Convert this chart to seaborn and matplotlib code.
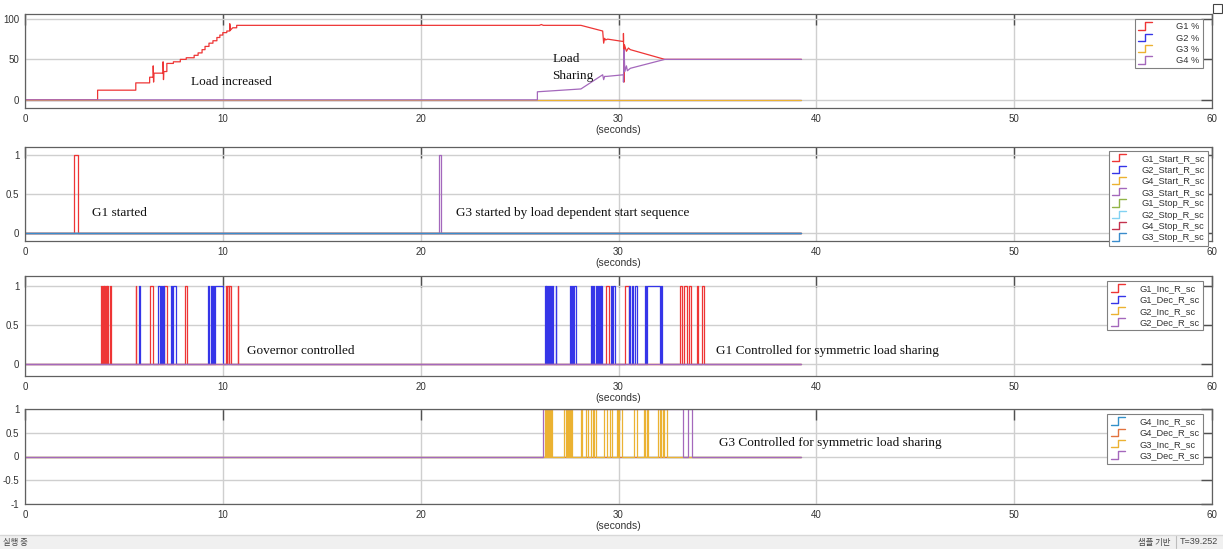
import matplotlib
matplotlib.use("Agg")
import matplotlib.pyplot as plt
import numpy as np
import seaborn as sns
from matplotlib.legend_handler import HandlerBase
from matplotlib.lines import Line2D
from matplotlib.patches import Rectangle

T_END = 39.25

# --- panel 1: load of each generator (%) ---
g1_pct_t = [0, 3.67, 3.67, 5.6, 5.6, 6.3, 6.3, 6.48, 6.48, 6.5, 6.52, 6.98, 6.98, 7.0, 7.02,
            7.17, 7.17, 7.5, 7.5, 7.85, 7.85, 8.15, 8.15, 8.55, 8.55, 8.75, 8.75, 8.95, 8.95,
            9.1, 9.1, 9.3, 9.3, 9.5, 9.5, 9.7, 9.7, 9.85, 9.85, 10.0, 10.0, 10.2, 10.2, 10.35,
            10.35, 10.38, 10.5, 10.7, 10.7, 26.0, 26.1, 26.2, 28.1, 29.2, 29.25, 29.3, 29.35,
            29.45, 30.25, 30.25, 30.28, 30.3, 30.4, 30.5, 30.6, 32.34, T_END]
g1_pct_v = [0, 0, 12, 12, 21, 21, 28, 28, 42, 22, 33, 33, 47, 25, 35,
            35, 45, 45, 47, 47, 50, 50, 52, 52, 55, 55, 58, 58, 62,
            62, 66, 66, 70, 70, 73, 73, 77, 77, 80, 80, 83, 83, 85, 85,
            94, 86, 89, 89, 92, 92, 93, 92, 92, 85, 70, 76, 74,
            75, 72, 82, 22, 68, 60, 64, 62, 50, 50]
g2_pct_t = [0, T_END]
g2_pct_v = [0, 0]
g3_pct_t = [0, T_END]
g3_pct_v = [0, 0]
g4_pct_t = [0, 25.9, 25.9, 28.1, 29.2, 29.25, 29.3, 29.4, 30.25, 30.25, 30.28, 30.32, 30.4,
            30.45, 30.6, 32.34, T_END]
g4_pct_v = [0, 0, 10, 13.5, 31, 25, 29, 29, 31, 22, 62, 35, 42, 36, 39, 50, 50]

# --- panel 2: start / stop requests (on, off) ---
g1_start = [(2.47, 2.68)]
g2_start = []
g4_start = []
g3_start = [(20.95, 21.05)]
g1_stop = []
g2_stop = []
g4_stop = []
g3_stop = []

# --- panel 3: G1 / G2 governor inc / dec ---
g1_inc = [(3.84, 3.9), (3.93, 3.98), (4.01, 4.06), (4.09, 4.13), (4.17, 4.21), (4.29, 4.34),
          (5.6, 5.62), (6.31, 6.48), (7.04, 7.2), (8.1, 8.2), (10.15, 10.2), (10.23, 10.3),
          (10.33, 10.4), (10.77, 10.79), (29.36, 29.51), (30.35, 30.52), (33.13, 33.22),
          (33.3, 33.48), (33.55, 33.68), (33.95, 34.0), (34.2, 34.31)]
g1_dec = [(5.78, 5.8), (6.73, 6.8), (6.85, 6.92), (6.96, 7.04), (7.37, 7.45), (7.5, 7.61),
          (9.26, 9.32), (9.38, 9.44), (9.5, 9.56), (9.62, 10.03), (26.28, 26.32), (26.36, 26.4),
          (26.44, 26.5), (26.55, 26.6), (26.64, 26.68), (26.84, 26.86), (27.53, 27.58),
          (27.63, 27.7), (27.76, 27.85), (28.62, 28.68), (28.72, 28.78), (28.84, 28.9),
          (28.95, 29.0), (29.06, 29.1), (29.14, 29.18), (29.6, 29.68), (29.74, 29.83),
          (30.52, 30.6), (30.66, 30.74), (30.82, 30.91), (31.33, 31.4), (31.45, 32.1),
          (32.15, 32.2)]
g2_inc = []
g2_dec = []

# --- panel 4: G3 / G4 governor inc / dec ---
g4_inc = []
g4_dec = []
g3_inc = [(26.31, 26.36), (26.4, 26.45), (26.5, 26.55), (26.58, 26.62), (27.27, 27.33),
          (27.38, 27.45), (27.5, 27.55), (27.59, 27.64), (28.08, 28.18), (28.38, 28.45),
          (28.62, 28.7), (28.76, 28.85), (29.29, 29.43), (29.56, 29.66), (29.9, 29.98),
          (30.05, 30.2), (30.77, 30.94), (31.28, 31.34), (31.42, 31.48), (32.02, 32.1),
          (32.16, 32.24), (32.3, 32.46)]
g3_dec = [(26.18, 33.27), (33.52, 33.72)]

RED, BLUE, YELLOW, PURPLE = '#ee3535', '#3535e8', '#ebb232', '#a468bc'


def pulses_xy(pulses):
    xs, ys = [0], [0]
    for on, off in pulses:
        xs += [on, on, off, off]
        ys += [0, 1, 1, 0]
    xs.append(T_END)
    ys.append(0)
    return xs, ys


class StepHandler(HandlerBase):
    """ draw the legend sample as a little step like the scope does """
    def create_artists(self, legend, orig_handle, xdescent, ydescent, width, height, fontsize, trans):
        xs = np.array([0.0, 0.5, 0.5, 1.0]) * width - xdescent
        ys = np.array([0.0, 0.0, 1.0, 1.0]) * height * 1.1 - ydescent - 0.05 * height
        ln = Line2D(xs, ys, color=orig_handle.get_color(), lw=1.0)
        ln.set_transform(trans)
        return [ln]


sns.set_style("white")
plt.rcParams['font.family'] = ['Liberation Sans', 'Noto Sans CJK KR', 'DejaVu Sans']

W, H = 1223, 549
fig = plt.figure(figsize=(W / 100, H / 100), dpi=100)

panels = [
    {'box': (14, 108), 'ylim': (-10, 106), 'yticks': [0, 50, 100],
     'series': [('G1 %', g1_pct_t, g1_pct_v, RED), ('G2 %', g2_pct_t, g2_pct_v, BLUE),
                ('G3 %', g3_pct_t, g3_pct_v, YELLOW), ('G4 %', g4_pct_t, g4_pct_v, PURPLE)],
     'anchor': (0.9924, 0.947), 'textpad': 2.6,
     'notes': [(8.4, 22, 'Load increased'), (26.65, 40, 'Load\nSharing')]},
    {'box': (147, 241), 'ylim': (-0.1, 1.1), 'yticks': [0, 0.5, 1],
     'series': [('G1_Start_R_sc', *pulses_xy(g1_start), RED),
                ('G2_Start_R_sc', *pulses_xy(g2_start), BLUE),
                ('G4_Start_R_sc', *pulses_xy(g4_start), YELLOW),
                ('G3_Start_R_sc', *pulses_xy(g3_start), PURPLE),
                ('G1_Stop_R_sc', *pulses_xy(g1_stop), '#92b447'),
                ('G2_Stop_R_sc', *pulses_xy(g2_stop), '#82d2f2'),
                ('G4_Stop_R_sc', *pulses_xy(g4_stop), '#c4334e'),
                ('G3_Stop_R_sc', *pulses_xy(g3_stop), '#3a8ccc')],
     'anchor': (0.9966, 0.96), 'textpad': 1.6,
     'notes': [(3.4, 0.26, 'G1 started'), (21.8, 0.26, 'G3 started by load dependent start sequence')]},
    {'box': (276, 376), 'ylim': (-0.15, 1.13), 'yticks': [0, 0.5, 1],
     'series': [('G1_Inc_R_sc', *pulses_xy(g1_inc), RED),
                ('G1_Dec_R_sc', *pulses_xy(g1_dec), BLUE),
                ('G2_Inc_R_sc', *pulses_xy(g2_inc), YELLOW),
                ('G2_Dec_R_sc', *pulses_xy(g2_dec), PURPLE)],
     'anchor': (0.9924, 0.95), 'textpad': 1.6,
     'notes': [(11.2, 0.17, 'Governor controlled'),
               (34.95, 0.17, 'G1 Controlled for symmetric load sharing')]},
    {'box': (409, 504), 'ylim': (-1, 1), 'yticks': [-1, -0.5, 0, 0.5, 1],
     'series': [('G4_Inc_R_sc', *pulses_xy(g4_inc), '#3390c8'),
                ('G4_Dec_R_sc', *pulses_xy(g4_dec), '#e2733f'),
                ('G3_Inc_R_sc', *pulses_xy(g3_inc), YELLOW),
                ('G3_Dec_R_sc', *pulses_xy(g3_dec), PURPLE)],
     'anchor': (0.9924, 0.947), 'textpad': 1.6,
     'notes': [(35.1, 0.28, 'G3 Controlled for symmetric load sharing')]},
]

for p in panels:
    top, bot = p['box']
    ax = fig.add_axes([25 / W, 1 - bot / H, 1187 / W, (bot - top) / H])
    for name, xs, ys, col in p['series']:
        sns.lineplot(x=xs, y=ys, estimator=None, sort=False, color=col, lw=0.9,
                     label=name, ax=ax)
    ax.set_xlim(0, 60)
    ax.set_ylim(*p['ylim'])
    ax.set_xticks(range(0, 61, 10))
    ax.set_yticks(p['yticks'])
    ax.set_yticklabels([f'{v:g}' for v in p['yticks']])
    ax.grid(True, color='#cfcfcf', lw=1.0)
    ax.set_axisbelow(True)
    ax.tick_params(direction='in', length=8, width=1.0, top=True, right=True,
                   color='#505050', labelsize=7, labelcolor='#333333', pad=4)
    for s in ax.spines.values():
        s.set_color('#606060')
        s.set_linewidth(0.9)
    ax.set_xlabel('(seconds)', fontsize=7.5, color='#333333', labelpad=1)
    ax.set_ylabel('')
    for x, y, txt in p['notes']:
        ax.text(x, y, txt, family='Liberation Serif', fontsize=9.5, color='#111111',
                va='center', ha='left', linespacing=1.5)
    leg = ax.legend(loc='upper right', bbox_to_anchor=p['anchor'], borderaxespad=0,
                    handler_map={Line2D: StepHandler()}, fontsize=6.7, frameon=True,
                    fancybox=False, framealpha=1, edgecolor='#808080', handlelength=1.5,
                    handletextpad=p['textpad'], labelspacing=0.25, borderpad=0.35)
    leg.get_frame().set_linewidth(0.8)
    for t in leg.get_texts():
        t.set_color('#333333')

# status bar of the scope window
fig.add_artist(Rectangle((0, 0), 1, 14 / H, transform=fig.transFigure,
                         facecolor='#f0f0f0', edgecolor='none'))
fig.add_artist(Line2D([0, 1], [14 / H, 14 / H], transform=fig.transFigure,
                      color='#d8d8d8', lw=1))
fig.text(3 / W, 7 / H, '실행 중', family='Noto Sans CJK KR', fontsize=6, color='#444444',
         va='center')
fig.text(1170 / W, 7 / H, '샘플 기반', family='Noto Sans CJK KR', fontsize=6,
         color='#444444', va='center', ha='right')
fig.text(1180 / W, 7 / H, 'T=39.252', fontsize=6.5, color='#444444', va='center')
fig.add_artist(Line2D([1176 / W, 1176 / W], [1 / H, 13 / H], transform=fig.transFigure,
                      color='#bdbdbd', lw=0.8))
fig.add_artist(Rectangle((1213 / W, 1 - 13 / H), 9 / W, 9 / H, transform=fig.transFigure,
                         facecolor='white', edgecolor='#444444', lw=0.8))

fig.savefig('out.png', dpi=100)
